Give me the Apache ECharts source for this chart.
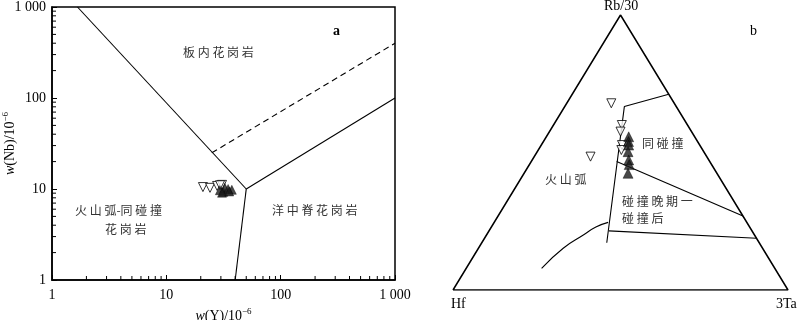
<!DOCTYPE html>
<html>
<head>
<meta charset="utf-8">
<script src="https://cdn.jsdelivr.net/npm/echarts@6/dist/echarts.min.js"></script>
<style>
html, body { margin: 0; padding: 0; background: #fff; }
#main { width: 800px; height: 320px; }
</style>
</head>
<body>
<div id="main"></div>
<script>
// ---- panel a: Nb-Y (log-log) ----
var minorTicks = [2, 3, 4, 5, 6, 7, 8, 9, 20, 30, 40, 50, 60, 70, 80, 90, 200, 300, 400, 500, 600, 700, 800, 900];
// samples [Y, Nb]
var nbyOpen = [[20.9, 10.5], [24.1, 10.3], [27.8, 10.8], [30.7, 11.1], [29.5, 11.0]];
var nbyFilled = [[29.4, 9.7], [31.5, 9.3], [32.5, 10.3], [34.7, 10.0], [37.4, 9.8], [30.7, 9.1], [35.5, 9.4]];
// boundaries [Y, Nb]
var lineWpgVag = [[1.67, 1000], [50, 10]];
var lineVagOrg = [[50, 10], [40, 1]];
var lineOrgWpg = [[50, 10], [1000, 100]];
var lineDashed = [[25, 25], [1000, 400]];

// ---- panel b: Hf - Rb/30 - 3Ta, compositions [Hf, Rb/30, 3Ta] ----
var ternFrame = [[100, 0, 0], [0, 0, 100], [0, 100, 0], [100, 0, 0]];
var ternL1 = [[0, 71.2, 28.8], [15.5, 66.7, 17.8], [45.5, 17.2, 37.3]];
var ternL2 = [[27.8, 46.7, 25.5], [0, 26.9, 73.1]];
var ternL3 = [[42.7, 21.5, 35.8], [0, 18.8, 81.2]];
var ternCurve = [[69.6, 7.9, 22.5], [59.5, 15.2, 25.3], [51.1, 20.0, 28.9], [45.9, 22.9, 31.2], [41.4, 24.6, 34.0]];
var ternOpen = [[18.8, 67.9, 13.3], [19.6, 60.0, 20.4], [21.2, 57.6, 21.2], [23.2, 52.7, 24.1], [24.3, 50.9, 24.8], [34.7, 48.5, 16.8]];
var ternFilled = [[19.7, 55.7, 24.6], [20.6, 54.0, 25.4], [21.2, 52.7, 26.1], [22.6, 50.3, 27.1], [23.9, 47.3, 28.8], [24.6, 45.6, 29.8], [26.5, 42.4, 31.0]];

function tern(p) {
    var s = p[0] + p[1] + p[2];
    return [(p[2] + p[1] / 2) / s, p[1] / s];
}
function ternList(arr) {
    var out = [];
    for (var i = 0; i < arr.length; ++i) {
        out.push(tern(arr[i]));
    }
    return out;
}

var serif = '"Liberation Serif", "DejaVu Serif", serif';
var cjk = '"Noto Sans CJK SC", sans-serif';

function boundary(data, idx, dashed) {
    return {
        type: 'line',
        xAxisIndex: idx, yAxisIndex: idx,
        data: data,
        showSymbol: false,
        silent: true,
        animation: false,
        lineStyle: { color: '#000', width: 1.1, type: dashed ? [6, 4] : 'solid' },
        z: 3
    };
}

function minorTickSeries(horizontal) {
    return {
        type: 'custom',
        xAxisIndex: 0, yAxisIndex: 0,
        silent: true,
        animation: false,
        data: minorTicks,
        clip: false,
        renderItem: function (params, api) {
            var v = api.value(0);
            var p;
            var shape;
            if (horizontal) {
                p = api.coord([v, 1]);
                shape = { x1: p[0], y1: p[1], x2: p[0], y2: p[1] - 4 };
            } else {
                p = api.coord([1, v]);
                shape = { x1: p[0], y1: p[1], x2: p[0] + 4, y2: p[1] };
            }
            return { type: 'line', shape: shape, style: { stroke: '#000', lineWidth: 1 } };
        },
        encode: { x: 0 }
    };
}

var supRich = {
    i: { fontFamily: serif, fontStyle: 'italic', fontSize: 14, color: '#000' },
    n: { fontFamily: serif, fontSize: 14, color: '#000' },
    sup: { fontFamily: serif, fontSize: 9, color: '#000', padding: [0, 0, 9, 0] }
};

function fmtNum(v) {
    return v === 1000 ? '1 000' : String(v);
}

var chart = echarts.init(document.getElementById('main'), null, { renderer: 'canvas' });
chart.setOption({
    backgroundColor: '#fff',
    animation: false,
    grid: [
        { left: 52, top: 7, right: 405, bottom: 40, show: true, borderColor: '#000', borderWidth: 1.5, containLabel: false, outerBoundsMode: 'none' },
        { left: 453, top: 15, right: 12, bottom: 30, show: false, outerBoundsMode: 'none' }
    ],
    xAxis: [
        {
            type: 'log', logBase: 10, min: 1, max: 1000, gridIndex: 0,
            name: '{i|w}{n|(Y)/10}{sup|−6}', nameLocation: 'middle', nameGap: 27,
            nameTextStyle: { rich: supRich },
            axisLine: { lineStyle: { color: '#000', width: 1.5 } },
            axisTick: { inside: true, length: 5, lineStyle: { color: '#000' } },
            splitLine: { show: false },
            axisLabel: { color: '#000', fontFamily: serif, fontSize: 14, margin: 8, formatter: fmtNum }
        },
        { type: 'value', min: 0, max: 1, gridIndex: 1, show: false }
    ],
    yAxis: [
        {
            type: 'log', logBase: 10, min: 1, max: 1000, gridIndex: 0,
            name: '{i|w}{n|(Nb)/10}{sup|−6}', nameLocation: 'middle', nameGap: 33, nameRotate: 90,
            nameMoveOverlap: false,
            nameTextStyle: { rich: supRich },
            axisLine: { lineStyle: { color: '#000', width: 1.5 } },
            axisTick: { inside: true, length: 5, lineStyle: { color: '#000' } },
            splitLine: { show: false },
            axisLabel: { color: '#000', fontFamily: serif, fontSize: 14, margin: 6, formatter: fmtNum }
        },
        { type: 'value', min: 0, max: 1, gridIndex: 1, show: false }
    ],
    series: [
        minorTickSeries(true),
        minorTickSeries(false),
        boundary(lineWpgVag, 0),
        boundary(lineVagOrg, 0),
        boundary(lineOrgWpg, 0),
        boundary(lineDashed, 0, true),
        {
            type: 'scatter', xAxisIndex: 0, yAxisIndex: 0, data: nbyOpen,
            symbol: 'triangle', symbolRotate: 180, symbolSize: [9, 9],
            itemStyle: { color: '#fff', borderColor: '#000', borderWidth: 1 }, z: 4
        },
        {
            type: 'scatter', xAxisIndex: 0, yAxisIndex: 0, data: nbyFilled,
            symbol: 'triangle', symbolSize: [9, 9],
            itemStyle: { color: '#1a1a1a', borderColor: '#000', borderWidth: 0.5 }, z: 5
        },
        // ternary
        {
            type: 'line', xAxisIndex: 1, yAxisIndex: 1, data: ternList(ternFrame),
            showSymbol: false, silent: true, lineStyle: { color: '#000', width: 1.5 }, z: 3
        },
        boundary(ternList(ternL1), 1),
        boundary(ternList(ternL2), 1),
        boundary(ternList(ternL3), 1),
        Object.assign(boundary(ternList(ternCurve), 1), { smooth: true }),
        {
            type: 'scatter', xAxisIndex: 1, yAxisIndex: 1, data: ternList(ternOpen),
            symbol: 'triangle', symbolRotate: 180, symbolSize: [9, 9],
            itemStyle: { color: '#fff', borderColor: '#000', borderWidth: 1 }, z: 4
        },
        {
            type: 'scatter', xAxisIndex: 1, yAxisIndex: 1, data: ternList(ternFilled),
            symbol: 'triangle', symbolSize: [10, 10],
            itemStyle: { color: '#1a1a1a', borderColor: '#000', borderWidth: 0.5 }, z: 5
        }
    ],
    graphic: [
        { type: 'text', left: 183, top: 46, style: { text: '板 内 花 岗 岩', font: '12px ' + cjk, fill: '#333' } },
        { type: 'text', left: 333, top: 24, style: { text: 'a', font: 'bold 14px ' + serif, fill: '#000' } },
        { type: 'text', left: 75, top: 204, style: { text: '火 山 弧-同 碰 撞', font: '12px ' + cjk, fill: '#333' } },
        { type: 'text', left: 105, top: 223, style: { text: '花 岗 岩', font: '12px ' + cjk, fill: '#333' } },
        { type: 'text', left: 272, top: 204, style: { text: '洋 中 脊 花 岗 岩', font: '12px ' + cjk, fill: '#333' } },
        { type: 'text', left: 604, top: -1, style: { text: 'Rb/30', font: '14px ' + serif, fill: '#000' } },
        { type: 'text', left: 750, top: 24, style: { text: 'b', font: '14px ' + serif, fill: '#000' } },
        { type: 'text', left: 642, top: 137, style: { text: '同 碰 撞', font: '12px ' + cjk, fill: '#333' } },
        { type: 'text', left: 545, top: 173, style: { text: '火 山 弧', font: '12px ' + cjk, fill: '#333' } },
        { type: 'text', left: 622, top: 195, style: { text: '碰 撞 晚 期 一', font: '12px ' + cjk, fill: '#333' } },
        { type: 'text', left: 622, top: 212, style: { text: '碰 撞 后', font: '12px ' + cjk, fill: '#333' } },
        { type: 'text', left: 451, top: 297, style: { text: 'Hf', font: '14px ' + serif, fill: '#000' } },
        { type: 'text', left: 776, top: 297, style: { text: '3Ta', font: '14px ' + serif, fill: '#000' } }
    ]
});
</script>
</body>
</html>
